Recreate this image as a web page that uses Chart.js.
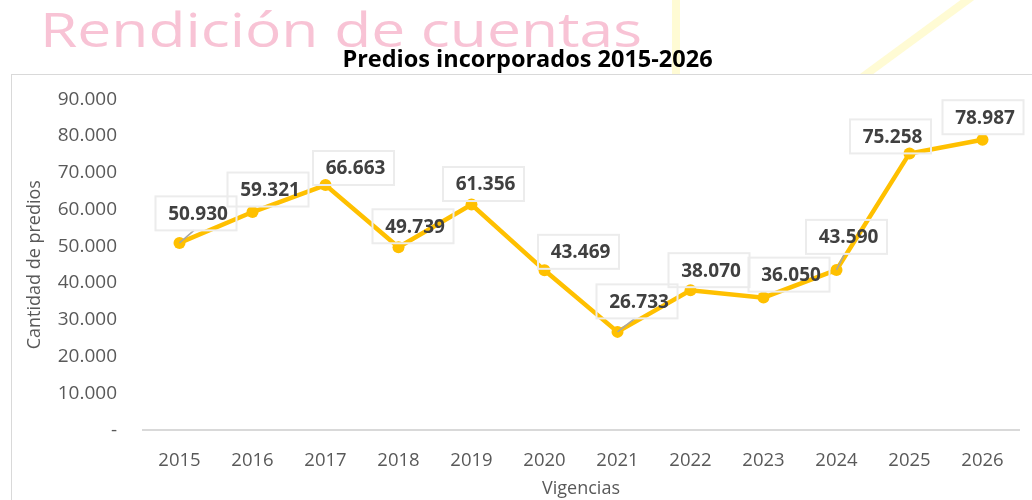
<!DOCTYPE html>
<html><head><meta charset="utf-8">
<script src="https://cdn.jsdelivr.net/npm/chart.js@4.4.1/dist/chart.umd.min.js"></script>
<style>
html,body{margin:0;padding:0;background:#fff;width:1032px;height:500px;overflow:hidden;position:relative}
#brand{position:absolute;left:40px;top:5px;font-family:'Open Sans',sans-serif;font-weight:400;font-size:48px;line-height:1;color:#f8c3d5;white-space:nowrap;transform-origin:0 0}
.yl{position:absolute;background:#fffbd4}
#v{left:672px;top:0;width:8px;height:80px}
#d{left:842px;top:33px;width:150px;height:8px;transform:rotate(-36.3deg)}
#frame{position:absolute;left:11px;top:74px;width:1040px;height:440px;border:1.5px solid #d9d9d9;background:#fff}
#c{position:absolute;left:0;top:0}
</style></head>
<body>
<div id="brand">Rendición de cuentas</div>
<div class="yl" id="v"></div>
<div class="yl" id="d"></div>
<div id="frame"></div>
<canvas id="c" width="1032" height="500"></canvas>
<script>
const years = ['2015','2016','2017','2018','2019','2020','2021','2022','2023','2024','2025','2026'];
const predios = [50930,59321,66663,49739,61356,43469,26733,38070,36050,43590,75258,78987];
const yTicks = [0,10000,20000,30000,40000,50000,60000,70000,80000,90000];
// label box placement relative to each point (style only)
const labelOffsets = [[16.5,-29.5],[15.5,-22.5],[28,-17],[14.5,-21],[12,-20.5],[34,-18.5],[19.5,-30.5],[18.5,-20],[25.5,-23],[10,-33],[-19,-17],[0.5,-22.5]];
const leaderIdx = [0,6,9];

const fmt = v => v === 0 ? '-' : String(v).replace(/\B(?=(\d{3})+(?!\d))/g,'.');

(function(){
  const b = document.getElementById('brand');
  const w = b.getBoundingClientRect().width;
  b.style.transform = 'scaleX(' + (602 / w) + ')';
})();

const labelPlugin = {
  id:'labels',
  afterDatasetsDraw(chart){
    const ctx = chart.ctx;
    const meta = chart.getDatasetMeta(0);
    const bw = 81, bh = 34;
    ctx.save();
    meta.data.forEach((pt,i)=>{
      const cx = pt.x + labelOffsets[i][0], cy = pt.y + labelOffsets[i][1];
      if (leaderIdx.includes(i)) {
        ctx.strokeStyle = '#a6a6a6'; ctx.lineWidth = 1.5;
        ctx.beginPath(); ctx.moveTo(pt.x, pt.y); ctx.lineTo(cx - 2, cy + bh/2); ctx.stroke();
      }
      ctx.strokeStyle = '#ececec'; ctx.lineWidth = 2;
      ctx.strokeRect(cx - bw/2, cy - bh/2, bw, bh);
      ctx.fillStyle = '#404040';
      ctx.font = 'bold 19px "Open Sans"';
      ctx.textAlign = 'center'; ctx.textBaseline = 'middle';
      ctx.fillText(fmt(predios[i]), cx + 2, cy + 1);
    });
    ctx.restore();
  }
};

new Chart(document.getElementById('c'), {
  type:'line',
  data:{labels:years, datasets:[{
    data:predios, borderColor:'#FFC000', borderWidth:4.5, pointRadius:6,
    pointBackgroundColor:'#FFC000', pointBorderColor:'#FFC000', pointBorderWidth:0,
    tension:0, fill:false
  }]},
  options:{
    responsive:false, animation:false, devicePixelRatio:1,
    layout:{padding:{left:36,right:13,top:0,bottom:0}},
    plugins:{
      legend:{display:false}, tooltip:{enabled:false},
      title:{display:true,text:'Predios incorporados 2015-2026',color:'#000',
        font:{family:'Open Sans',weight:'bold',size:23.5},padding:{top:46,bottom:25}}
    },
    scales:{
      x:{offset:true, grid:{display:false,drawTicks:false},
        border:{display:true,color:'#d9d9d9',width:2},
        ticks:{color:'#595959',font:{family:'Open Sans',size:18.5},padding:19,maxRotation:0},
        title:{display:true,text:'Vigencias',color:'#595959',font:{family:'Open Sans',size:18},padding:{top:-12,bottom:0}}},
      y:{min:0,max:90000,
        afterBuildTicks:s=>{s.ticks = yTicks.map(v=>({value:v}));},
        grid:{display:false,drawTicks:false}, border:{display:false},
        ticks:{color:'#595959',font:{family:'Open Sans',size:19},padding:26,callback:v=>fmt(v)},
        title:{display:true,text:'Cantidad de predios',color:'#595959',font:{family:'Open Sans',size:18},padding:{top:-12,bottom:0}},
        afterFit:s=>{s.width = 107;}}
    }
  },
  plugins:[labelPlugin]
});
</script>
</body></html>
